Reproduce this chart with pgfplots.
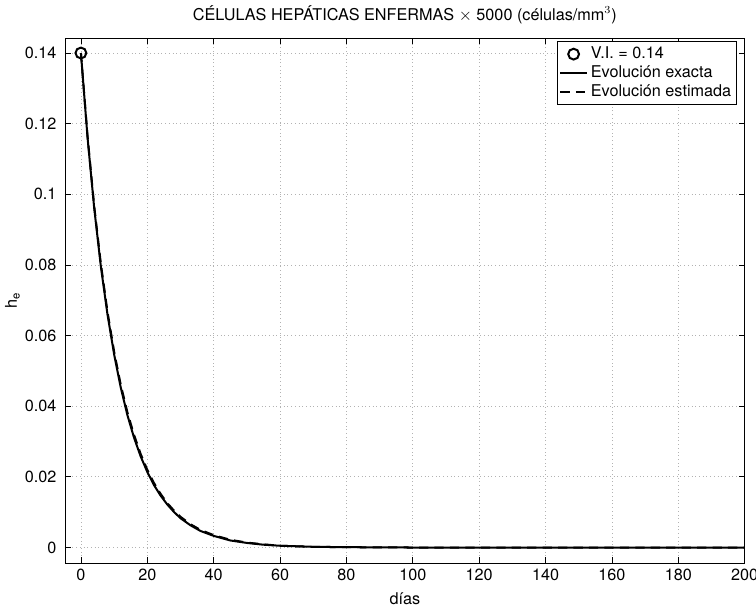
\documentclass[border=0pt]{standalone}
\usepackage{pgfplots}
\pgfplotsset{compat=1.18}
\usepackage{fontspec}
\setmainfont{TeX Gyre Heros}
\begin{document}
\begin{tikzpicture}
\begin{axis}[
  scale only axis,
  width=440pt, height=340pt,
  xmin=-4.8, xmax=200,
  ymin=-0.0045, ymax=0.1442,
  xtick={0,20,...,200},
  ytick={0,0.02,0.04,0.06,0.08,0.1,0.12,0.14},
  yticklabels={0,0.02,0.04,0.06,0.08,0.1,0.12,0.14},
  scaled y ticks=false,
  /pgf/number format/assume math mode=true,
  tick align=inside,
  major tick length=4pt,
  tick style={black, line width=0.5pt},
  axis line style={black, line width=0.6pt},
  grid=major,
  major grid style={gray!60, dotted, line width=0.5pt},
  tick label style={font=\fontsize{10.5}{12.5}\selectfont},
  yticklabel style={xshift=-2pt},
  label style={font=\fontsize{10.5}{12.5}\selectfont},
  title style={font=\fontsize{10.5}{12.5}\selectfont, yshift=0pt},
  title={CÉLULAS HEPÁTICAS ENFERMAS $\times$ 5000 (células/mm$^{3}$)},
  xlabel={días},
  ylabel={h$_\mathrm{e}$},
  xlabel style={yshift=-1pt},
  ylabel style={yshift=-3.5pt},
  legend style={at={(rel axis cs:1,1)}, anchor=north east, xshift=-5pt, yshift=-2pt,
    draw=black, line width=0.5pt, font=\fontsize{10.5}{12.5}\selectfont,
    inner sep=1.5pt, row sep=-1pt, cells={anchor=west}},
  legend cell align=left,
]
\addplot[only marks, mark=o, mark size=3.5pt, line width=1.3pt, black] coordinates {(0,0.14)};
\addlegendentry{V.I. = 0.14}
\addplot[black, line width=1.3pt] coordinates {
(0,0.14) (2,0.1160) (4,0.0961) (6,0.0796) (8,0.0660) (10,0.0547) (12,0.0453) (14,0.0375)
(16,0.0311) (18,0.0258) (20,0.0214) (22,0.0177) (24,0.0147) (26,0.0122) (28,0.0101)
(30,0.0083) (33,0.0063) (36,0.0047) (40,0.0033) (45,0.0020) (50,0.0013) (55,0.0008)
(60,0.0005) (70,0.0002) (80,0.0001) (100,0.0) (200,0.0)};
\addlegendentry{Evolución exacta}
\addplot[black, line width=1.3pt, dash pattern=on 6pt off 4pt] coordinates {
(0,0.14) (2,0.1164) (4,0.0967) (6,0.0804) (8,0.0668) (10,0.0555) (12,0.0461) (14,0.0383)
(16,0.0319) (18,0.0265) (20,0.0220) (22,0.0183) (24,0.0152) (26,0.0126) (28,0.0105)
(30,0.0087) (33,0.0066) (36,0.0050) (40,0.0035) (45,0.0022) (50,0.0014) (55,0.0009)
(60,0.0005) (70,0.0002) (80,0.0001) (100,0.0) (200,0.0)};
\addlegendentry{Evolución estimada}
\end{axis}
\pgfresetboundingbox
\useasboundingbox (current axis.outer south west) rectangle ([xshift=7.3pt]current axis.south east |- current axis.outer north east);
\end{tikzpicture}
\end{document}
